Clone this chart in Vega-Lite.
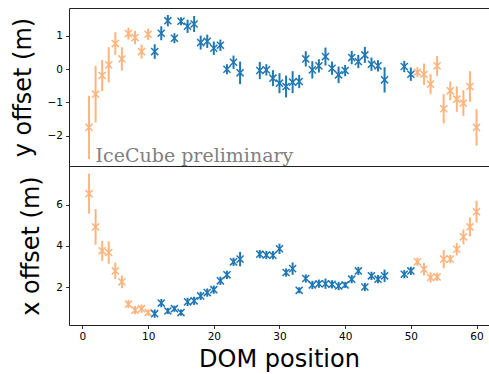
{
  "$schema": "https://vega.github.io/schema/vega-lite/v6.json",
  "padding": {"left": 10, "top": 7, "right": 1, "bottom": 0},
  "spacing": 0,
  "bounds": "flush",
  "config": {
    "view": {"stroke": "#222", "strokeWidth": 1},
    "font": "DejaVu Sans",
    "axis": {"labelFont": "DejaVu Sans", "labelFontSize": 10.5, "labelColor": "#000", "tickColor": "#000", "tickSize": 3.5, "tickWidth": 0.8, "domain": false, "grid": false, "titleFont": "DejaVu Sans", "titleFontSize": 24, "titleFontWeight": "normal", "titleColor": "#000", "labelPadding": 3},
    "axisY": {"titlePadding": 12},
    "axisX": {"titlePadding": 5}
  },
  "datasets": {
    "doms": [
      {"dom": 1, "y": -1.75, "ye": 0.95, "x": 6.53, "xe": 0.97, "g": "outer"},
      {"dom": 2, "y": -0.75, "ye": 0.85, "x": 4.92, "xe": 0.86, "g": "outer"},
      {"dom": 3, "y": -0.19, "ye": 0.47, "x": 3.76, "xe": 0.48, "g": "outer"},
      {"dom": 4, "y": 0.13, "ye": 0.53, "x": 3.68, "xe": 0.54, "g": "outer"},
      {"dom": 5, "y": 0.77, "ye": 0.34, "x": 2.79, "xe": 0.4, "g": "outer"},
      {"dom": 6, "y": 0.31, "ye": 0.35, "x": 2.26, "xe": 0.31, "g": "outer"},
      {"dom": 7, "y": 1.07, "ye": 0.18, "x": 1.18, "xe": 0.2, "g": "outer"},
      {"dom": 8, "y": 0.95, "ye": 0.2, "x": 0.89, "xe": 0.2, "g": "outer"},
      {"dom": 9, "y": 0.53, "ye": 0.21, "x": 0.96, "xe": 0.2, "g": "outer"},
      {"dom": 10, "y": 1.05, "ye": 0.17, "x": 0.77, "xe": 0.15, "g": "outer"},
      {"dom": 11, "y": 0.53, "ye": 0.22, "x": 0.72, "xe": 0.2, "g": "inner"},
      {"dom": 12, "y": 1.08, "ye": 0.21, "x": 1.23, "xe": 0.2, "g": "inner"},
      {"dom": 13, "y": 1.46, "ye": 0.17, "x": 0.85, "xe": 0.15, "g": "inner"},
      {"dom": 14, "y": 0.93, "ye": 0.15, "x": 0.96, "xe": 0.15, "g": "inner"},
      {"dom": 15, "y": 1.44, "ye": 0.12, "x": 0.77, "xe": 0.15, "g": "inner"},
      {"dom": 16, "y": 1.29, "ye": 0.2, "x": 1.29, "xe": 0.2, "g": "inner"},
      {"dom": 17, "y": 1.36, "ye": 0.24, "x": 1.34, "xe": 0.2, "g": "inner"},
      {"dom": 18, "y": 0.8, "ye": 0.21, "x": 1.58, "xe": 0.2, "g": "inner"},
      {"dom": 19, "y": 0.84, "ye": 0.2, "x": 1.74, "xe": 0.2, "g": "inner"},
      {"dom": 20, "y": 0.63, "ye": 0.2, "x": 1.88, "xe": 0.2, "g": "inner"},
      {"dom": 21, "y": 0.72, "ye": 0.17, "x": 2.31, "xe": 0.2, "g": "inner"},
      {"dom": 22, "y": 0.0, "ye": 0.15, "x": 2.6, "xe": 0.2, "g": "inner"},
      {"dom": 23, "y": 0.21, "ye": 0.2, "x": 3.23, "xe": 0.2, "g": "inner"},
      {"dom": 24, "y": -0.11, "ye": 0.34, "x": 3.36, "xe": 0.35, "g": "inner"},
      {"dom": 27, "y": -0.04, "ye": 0.26, "x": 3.6, "xe": 0.2, "g": "inner"},
      {"dom": 28, "y": -0.02, "ye": 0.17, "x": 3.56, "xe": 0.2, "g": "inner"},
      {"dom": 29, "y": -0.27, "ye": 0.24, "x": 3.55, "xe": 0.2, "g": "inner"},
      {"dom": 30, "y": -0.42, "ye": 0.3, "x": 3.86, "xe": 0.25, "g": "inner"},
      {"dom": 31, "y": -0.52, "ye": 0.33, "x": 2.71, "xe": 0.2, "g": "inner"},
      {"dom": 32, "y": -0.39, "ye": 0.33, "x": 2.9, "xe": 0.3, "g": "inner"},
      {"dom": 33, "y": -0.37, "ye": 0.2, "x": 1.85, "xe": 0.15, "g": "inner"},
      {"dom": 34, "y": 0.31, "ye": 0.23, "x": 2.42, "xe": 0.2, "g": "inner"},
      {"dom": 35, "y": -0.02, "ye": 0.26, "x": 2.11, "xe": 0.2, "g": "inner"},
      {"dom": 36, "y": 0.1, "ye": 0.2, "x": 2.17, "xe": 0.2, "g": "inner"},
      {"dom": 37, "y": 0.38, "ye": 0.27, "x": 2.17, "xe": 0.25, "g": "inner"},
      {"dom": 38, "y": 0.03, "ye": 0.2, "x": 2.14, "xe": 0.2, "g": "inner"},
      {"dom": 39, "y": -0.17, "ye": 0.25, "x": 2.06, "xe": 0.2, "g": "inner"},
      {"dom": 40, "y": -0.04, "ye": 0.17, "x": 2.11, "xe": 0.15, "g": "inner"},
      {"dom": 41, "y": 0.35, "ye": 0.2, "x": 2.39, "xe": 0.2, "g": "inner"},
      {"dom": 42, "y": 0.23, "ye": 0.2, "x": 2.79, "xe": 0.2, "g": "inner"},
      {"dom": 43, "y": 0.43, "ye": 0.24, "x": 2.01, "xe": 0.2, "g": "inner"},
      {"dom": 44, "y": 0.15, "ye": 0.2, "x": 2.55, "xe": 0.2, "g": "inner"},
      {"dom": 45, "y": 0.1, "ye": 0.17, "x": 2.39, "xe": 0.2, "g": "inner"},
      {"dom": 46, "y": -0.32, "ye": 0.38, "x": 2.55, "xe": 0.3, "g": "inner"},
      {"dom": 49, "y": 0.08, "ye": 0.17, "x": 2.63, "xe": 0.2, "g": "inner"},
      {"dom": 50, "y": -0.15, "ye": 0.2, "x": 2.79, "xe": 0.2, "g": "inner"},
      {"dom": 51, "y": -0.09, "ye": 0.15, "x": 3.23, "xe": 0.2, "g": "outer"},
      {"dom": 52, "y": -0.15, "ye": 0.32, "x": 2.87, "xe": 0.3, "g": "outer"},
      {"dom": 53, "y": -0.45, "ye": 0.3, "x": 2.47, "xe": 0.25, "g": "outer"},
      {"dom": 54, "y": 0.1, "ye": 0.3, "x": 2.5, "xe": 0.2, "g": "outer"},
      {"dom": 55, "y": -1.19, "ye": 0.44, "x": 3.36, "xe": 0.44, "g": "outer"},
      {"dom": 56, "y": -0.65, "ye": 0.28, "x": 3.36, "xe": 0.2, "g": "outer"},
      {"dom": 57, "y": -0.9, "ye": 0.38, "x": 3.84, "xe": 0.3, "g": "outer"},
      {"dom": 58, "y": -1.02, "ye": 0.39, "x": 4.44, "xe": 0.36, "g": "outer"},
      {"dom": 59, "y": -0.52, "ye": 0.46, "x": 4.92, "xe": 0.46, "g": "outer"},
      {"dom": 60, "y": -1.75, "ye": 0.55, "x": 5.66, "xe": 0.53, "g": "outer"}
    ],
    "note": [{"label": "IceCube preliminary", "dom": 2, "y": -2.78}]
  },
  "vconcat": [
    {
      "width": 420,
      "height": 158,
      "layer": [
        {
          "data": {"name": "doms"},
          "mark": {"type": "errorbar", "thickness": 2},
          "encoding": {
            "x": {"field": "dom", "type": "quantitative", "scale": {"domain": [-2.05, 61.9], "nice": false, "zero": false}, "axis": null},
            "y": {"field": "y", "type": "quantitative", "title": "y offset (m)", "scale": {"domain": [-2.91, 1.84], "nice": false, "zero": false}, "axis": {"values": [-2, -1, 0, 1]}},
            "yError": {"field": "ye"},
            "color": {"field": "g", "type": "nominal", "scale": {"domain": ["outer", "inner"], "range": ["#ffb47d", "#1f77b4"]}, "legend": null}
          }
        },
        {
          "data": {"name": "doms"},
          "mark": {"type": "point", "shape": "M-1,-1L1,1M-1,1L1,-1", "filled": false, "strokeWidth": 1.5, "size": 50, "opacity": 1},
          "encoding": {
            "x": {"field": "dom", "type": "quantitative", "axis": null},
            "y": {"field": "y", "type": "quantitative", "title": "y offset (m)"},
            "color": {"field": "g", "type": "nominal", "legend": null}
          }
        },
        {
          "data": {"name": "note"},
          "mark": {"type": "text", "font": "DejaVu Serif", "fontSize": 19, "color": "#808080", "align": "left", "baseline": "alphabetic"},
          "encoding": {
            "x": {"field": "dom", "type": "quantitative", "axis": null},
            "y": {"field": "y", "type": "quantitative", "title": "y offset (m)"},
            "text": {"field": "label"}
          }
        }
      ]
    },
    {
      "width": 420,
      "height": 159,
      "layer": [
        {
          "data": {"name": "doms"},
          "mark": {"type": "errorbar", "thickness": 2},
          "encoding": {
            "x": {"field": "dom", "type": "quantitative", "title": "DOM position", "scale": {"domain": [-2.05, 61.9], "nice": false, "zero": false}, "axis": {"values": [0, 10, 20, 30, 40, 50, 60]}},
            "y": {"field": "x", "type": "quantitative", "title": "x offset (m)", "scale": {"domain": [0.17, 7.87], "nice": false, "zero": false}, "axis": {"values": [2, 4, 6]}},
            "yError": {"field": "xe"},
            "color": {"field": "g", "type": "nominal", "scale": {"domain": ["outer", "inner"], "range": ["#ffb47d", "#1f77b4"]}, "legend": null}
          }
        },
        {
          "data": {"name": "doms"},
          "mark": {"type": "point", "shape": "M-1,-1L1,1M-1,1L1,-1", "filled": false, "strokeWidth": 1.5, "size": 50, "opacity": 1},
          "encoding": {
            "x": {"field": "dom", "type": "quantitative", "title": "DOM position"},
            "y": {"field": "x", "type": "quantitative", "title": "x offset (m)"},
            "color": {"field": "g", "type": "nominal", "legend": null}
          }
        }
      ]
    }
  ]
}
